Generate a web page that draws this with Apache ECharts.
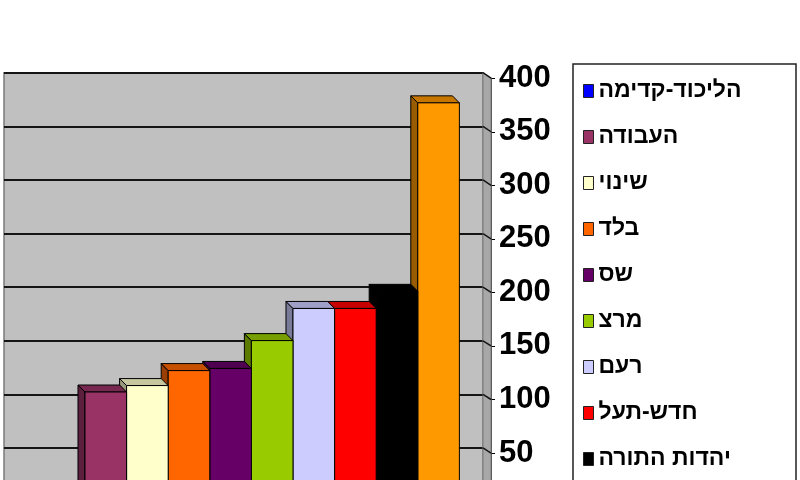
<!DOCTYPE html>
<html>
<head>
<meta charset="utf-8">
<script src="https://cdn.jsdelivr.net/npm/echarts@6/dist/echarts.min.js"></script>
<style>
  html, body { margin: 0; padding: 0; background: #fff; overflow: hidden; }
  /* the picture is a crop: the chart runs on below the 480px window */
  #chart { width: 800px; height: 600px; }
</style>
</head>
<body>
<div id="chart"></div>
<script>
// parties, in legend order (last one is cut off in the picture)
const parties = ['הליכוד-קדימה', 'העבודה', 'שינוי', 'בלד', 'שס', 'מרצ', 'רעם', 'חדש-תעל', 'יהדות התורה', 'האיחוד הלאומי'];
const values = [12, 107, 113, 127, 129, 155, 185, 185, 201, 377];
const colors = ['#0000FF', '#993366', '#FFFFCC', '#FF6600', '#660066', '#99CC00', '#CCCCFF', '#FF0000', '#000000', '#FF9900'];
const yMin = 0, yMax = 400, yStep = 50;

function shade(hex, f) {
  const n = parseInt(hex.slice(1), 16);
  const r = Math.round(((n >> 16) & 255) * f);
  const g = Math.round(((n >> 8) & 255) * f);
  const b = Math.round((n & 255) * f);
  return 'rgb(' + r + ',' + g + ',' + b + ')';
}

// fake 3d column: front face + top + left side
function renderBar(params, api) {
  const i = api.value(0);
  const v = api.value(1);
  const tl = api.coord([i, v]);
  const br = api.coord([i + 1, 0]);
  const L = tl[0], T = tl[1], R = br[0], B = br[1];
  const dx = -7, dy = -7;
  const c = colors[i];
  return {
    type: 'group',
    children: [
      { type: 'polygon', shape: { points: [[L, T], [L, B], [L + dx, B + dy], [L + dx, T + dy]] },
        style: { fill: shade(c, 0.6), stroke: '#000', lineWidth: 1 } },
      { type: 'polygon', shape: { points: [[L, T], [R, T], [R + dx, T + dy], [L + dx, T + dy]] },
        style: { fill: shade(c, 0.78), stroke: '#000', lineWidth: 1 } },
      { type: 'rect', shape: { x: L, y: T, width: R - L, height: B - T },
        style: { fill: c, stroke: '#000', lineWidth: 1 } }
    ]
  };
}

const chart = echarts.init(document.getElementById('chart'));

const series = parties.map((name, i) => ({
  name: name,
  type: 'custom',
  xAxisIndex: 0,
  yAxisIndex: 0,
  z: 20 - i,
  clip: false,
  itemStyle: { color: colors[i] },
  renderItem: renderBar,
  encode: { x: 0, y: 1 },
  data: [[i, values[i]]]
}));

const option = {
  animation: false,
  backgroundColor: '#fff',
  grid: [
    // front plane: bars and value axis
    { left: 4, right: 309, top: 78.2, bottom: 93.4 },
    // back wall
    { left: 4, right: 317, top: 72.7, bottom: 98.4, show: true,
      backgroundColor: '#C0C0C0', borderColor: '#7a7a7a', borderWidth: 1.5, z: 0 }
  ],
  xAxis: [
    { gridIndex: 0, type: 'value', min: -0.947, max: 10.76, show: false },
    { gridIndex: 1, type: 'value', min: 0, max: 1, show: false }
  ],
  yAxis: [
    {
      gridIndex: 0, type: 'value', position: 'right', min: yMin, max: yMax, interval: yStep,
      axisLine: { show: true, onZero: false, lineStyle: { color: '#000', width: 1.5 } },
      axisTick: { show: true, length: 4, lineStyle: { color: '#000' } },
      splitLine: { show: false },
      axisLabel: {
        margin: 8, color: '#000', fontWeight: 'bold', fontSize: 31,
        fontFamily: "'Liberation Sans Narrow', 'Liberation Sans', Arial, sans-serif"
      }
    },
    {
      gridIndex: 1, type: 'value', min: yMin, max: yMax, interval: yStep,
      axisLine: { show: false }, axisTick: { show: false }, axisLabel: { show: false },
      splitLine: { show: true, lineStyle: { color: '#151515', width: 2 } }
    }
  ],
  legend: {
    orient: 'vertical',
    left: 583,
    top: 79,
    padding: 0,
    itemWidth: 10,
    itemHeight: 13,
    itemGap: 22,
    icon: 'rect',
    itemStyle: { borderColor: '#222', borderWidth: 1 },
    textStyle: {
      color: '#000', fontWeight: 'bold', fontSize: 23, lineHeight: 24,
      fontFamily: "'Liberation Sans', Arial, sans-serif"
    },
    data: parties
  },
  series: series
};

chart.setOption(option);

// legend frame, side strip of the wall and the tick connectors
const wallRight = chart.convertToPixel({ xAxisIndex: 1 }, 1);
const axisX = chart.convertToPixel({ xAxisIndex: 0 }, 10.76);
const wallTop = chart.convertToPixel({ yAxisIndex: 1 }, yMax);
const axisTop = chart.convertToPixel({ yAxisIndex: 0 }, yMax);
const graphics = [
  { type: 'rect', z: 0, shape: { x: 573, y: 64, width: 223, height: 560 },
    style: { fill: '#fff', stroke: '#222', lineWidth: 1.5 } },
  { type: 'polygon', z: 1, shape: { points: [[wallRight, wallTop], [axisX, axisTop], [axisX, 620], [wallRight, 620]] },
    style: { fill: '#a8a8a8', stroke: '#7a7a7a', lineWidth: 1 } }
];
for (let v = yMin; v <= yMax; v += yStep) {
  graphics.push({
    type: 'line', z: 1,
    shape: { x1: wallRight, y1: chart.convertToPixel({ yAxisIndex: 1 }, v), x2: axisX, y2: chart.convertToPixel({ yAxisIndex: 0 }, v) },
    style: { stroke: '#151515', lineWidth: 1.5 }
  });
}
chart.setOption({ graphic: graphics });

window.addEventListener('resize', () => {
  chart.resize();
});
</script>
</body>
</html>
